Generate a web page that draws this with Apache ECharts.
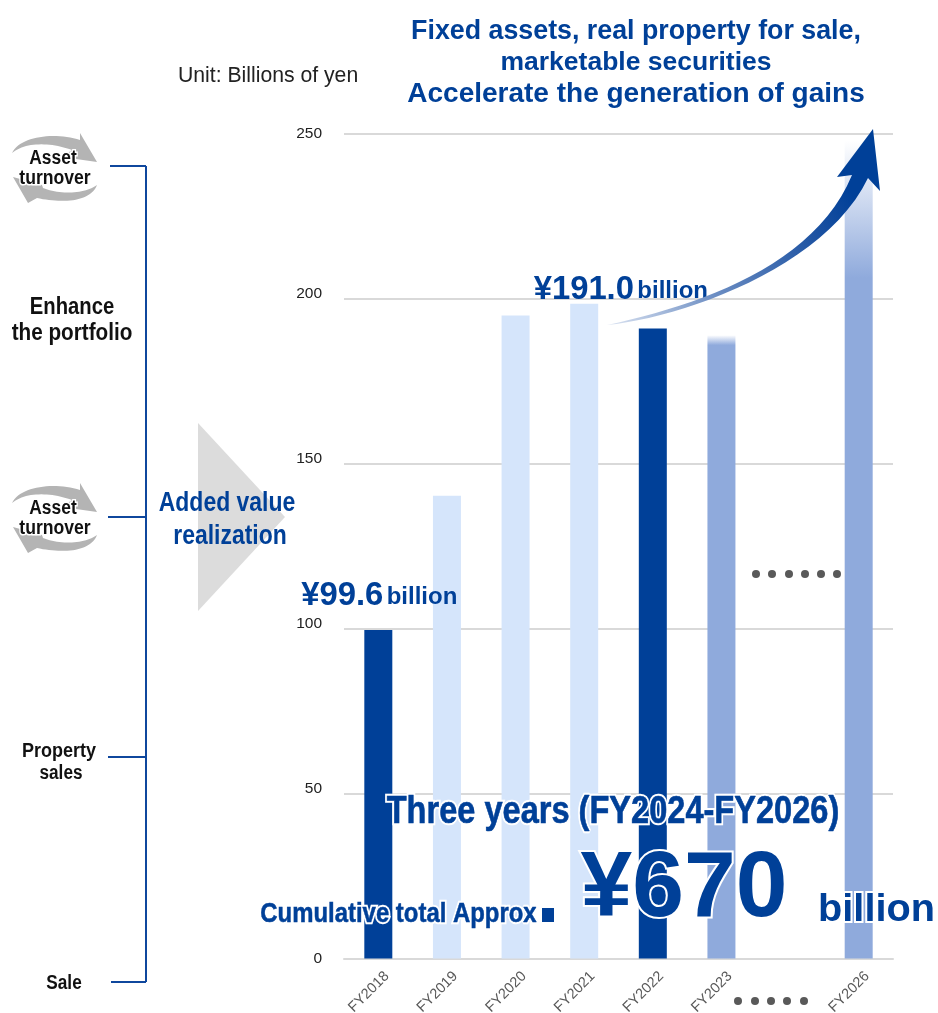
<!DOCTYPE html>
<html>
<head>
<meta charset="utf-8">
<style>html,body{margin:0;padding:0;background:#fff}#chart{width:938px;height:1013px}</style>
<script src="https://cdn.jsdelivr.net/npm/echarts@6/dist/echarts.min.js"></script>
</head>
<body>
<div id="chart"></div>
<script>
// Gains on sales by fiscal year, billions of yen
const categories = ['FY2018', 'FY2019', 'FY2020', 'FY2021', 'FY2022', 'FY2023', '', 'FY2026'];
const gains = [99.6, 140.3, 195, 198.5, 191.0, 189, null, 248];
const yTicks = { min: 0, max: 250, interval: 50 };
const labelledYears = ['FY2018', 'FY2022'];
const headline = ['Fixed assets, real property for sale,', 'marketable securities', 'Accelerate the generation of gains'];

const NAVY = '#004098', PALE = '#d5e5fb', MID = '#8faadc', SLATE = '#595959', FAMILY = 'Liberation Sans';

const fade = (stop) => new echarts.graphic.LinearGradient(0, 0, 0, 1, [
  { offset: 0, color: '#ffffff' }, { offset: stop, color: MID }, { offset: 1, color: MID }
]);
const barFill = {
  FY2018: NAVY, FY2019: PALE, FY2020: PALE, FY2021: PALE, FY2022: NAVY,
  FY2023: fade(0.016), FY2026: fade(0.168)
};

// Samples cubic segments into a polygon outline
function curve(p0, c1, c2, p1, n = 24) {
  const pts = [];
  for (let i = 0; i <= n; i++) {
    const t = i / n, u = 1 - t;
    pts.push([
      u*u*u*p0[0] + 3*u*u*t*c1[0] + 3*u*t*t*c2[0] + t*t*t*p1[0],
      u*u*u*p0[1] + 3*u*u*t*c1[1] + 3*u*t*t*c2[1] + t*t*t*p1[1]
    ]);
  }
  return pts;
}

// Rising arrow over the last years
const arrowPoints = [
  ...curve([607, 325], [700, 305], [815, 265], [852, 175]),
  [837, 177], [873, 129], [880, 191], [868, 178],
  ...curve([868, 178], [825, 268], [680, 318], [607, 325])
];

// Two sweeping grey arrows circling a label
function turnoverIcon(dy) {
  const top = [
    ...curve([12, 153], [20, 136], [55, 132], [80, 140]),
    [80, 133], [97, 162], [62, 157], [72, 150],
    ...curve([72, 150], [50, 142], [25, 142], [12, 153])
  ].map(p => [p[0], p[1] + dy]);
  const bottom = [
    ...curve([97, 185], [90, 203], [60, 203], [37, 198]),
    [28, 203], [13, 177], [42, 185], [43, 188],
    ...curve([43, 188], [60, 195], [85, 194], [97, 185])
  ].map(p => [p[0], p[1] + dy]);
  return [top, bottom].map(points => ({
    type: 'polygon', shape: { points }, style: { fill: '#b4b4b4' }, z: 1
  }));
}

// Condensed text placed by its centre
function label(text, x, y, size, color, scaleX, z = 20, extra) {
  return {
    type: 'text', x, y, scaleX, z,
    style: Object.assign({
      text, fill: color, fontFamily: FAMILY, fontSize: size, fontWeight: 'bold',
      align: 'center', verticalAlign: 'middle'
    }, extra || {})
  };
}
// Same text with a soft white glow kept underneath the clean fill
function glowing(text, x, y, size, color, scaleX, glow = 4, weight = 0) {
  return [
    label(text, x, y, size, '#ffffff', scaleX, 18, { stroke: '#ffffff', lineWidth: glow + weight, shadowColor: '#ffffff', shadowBlur: 6 }),
    label(text, x, y, size, color, scaleX, 20, weight ? { stroke: color, lineWidth: weight } : {})
  ];
}

const bracket = [
  [[110, 166], [146, 166]], [[146, 166], [146, 982]],
  [[108, 517], [146, 517]], [[108, 757], [146, 757]], [[111, 982], [146, 982]]
].map(([a, b]) => ({
  type: 'line', shape: { x1: a[0], y1: a[1], x2: b[0], y2: b[1] },
  style: { stroke: '#0f479d', lineWidth: 2 }, z: 2
}));

const dots = (xs, y) => xs.map(cx => ({
  type: 'circle', shape: { cx, cy: y, r: 4 }, style: { fill: SLATE }, z: 3
}));

const chart = echarts.init(document.getElementById('chart'), null, { renderer: 'canvas' });
chart.setOption({
  animation: false,
  backgroundColor: '#fff',
  grid: { left: 344, right: 45, top: 134, bottom: 54.5, containLabel: false, outerBoundsMode: 'none' },
  xAxis: {
    type: 'category', data: categories,
    axisLine: { lineStyle: { color: '#d9d9d9', width: 2 } },
    axisTick: { show: false },
    axisLabel: { rotate: 45, color: SLATE, fontSize: 14.5, fontFamily: FAMILY, margin: 24, interval: 0, padding: [0, -12, 0, 0] }
  },
  yAxis: {
    type: 'value', min: yTicks.min, max: yTicks.max, interval: yTicks.interval,
    axisLine: { show: false }, axisTick: { show: false },
    axisLabel: {
      color: '#222', fontSize: 15.5, fontFamily: FAMILY, margin: 22,
      // The inner tick labels sit a little above their gridlines
      formatter: (v) => (v === yTicks.min || v === yTicks.max) ? `${v}` : `{lift|${v}}`,
      rich: { lift: { color: '#222', fontSize: 15.5, fontFamily: FAMILY, padding: [0, 0, 10, 0] } }
    },
    splitLine: { lineStyle: { color: '#d9d9d9', width: 2 } }
  },
  series: [{
    type: 'bar', barWidth: 28, z: 5,
    data: gains.map((value, i) => {
      const name = categories[i];
      const item = { value, itemStyle: { color: barFill[name] } };
      if (labelledYears.includes(name)) {
        item.label = {
          show: true, position: 'top',
          offset: name === 'FY2022' ? [-32, -17] : [1, -13],
          formatter: (p) => `{a|¥${p.value.toFixed(1)}} {b|billion}`,
          rich: {
            a: { fontFamily: FAMILY, fontSize: 32.8, fontWeight: 'bold', color: NAVY },
            b: { fontFamily: FAMILY, fontSize: 24, fontWeight: 'bold', color: NAVY, padding: [3, 0, 0, 0] }
          }
        };
      }
      return item;
    })
  }],
  graphic: { elements: [
    { type: 'polygon', shape: { points: [[198, 423], [285, 517], [198, 611]] }, style: { fill: '#dcdcdc' }, z: 1 },
    ...bracket,
    ...turnoverIcon(0), ...turnoverIcon(350),
    {
      type: 'polygon', shape: { points: arrowPoints }, z: 15,
      style: { fill: new echarts.graphic.LinearGradient(607, 326, 850, 190, [
        { offset: 0, color: '#dce4f2' },
        { offset: 0.4, color: '#6a8cc2' },
        { offset: 0.8, color: '#1f54a3' },
        { offset: 1, color: NAVY }
      ], true) }
    },
    ...dots([756, 772, 789, 805, 821, 837], 574),
    ...dots([738, 755, 771, 787, 804], 1001),

    label(headline[0], 636, 32, 26.8, NAVY, 1),
    label(headline[1], 636, 63, 26.5, NAVY, 1),
    label(headline[2], 636, 94, 28, NAVY, 1),
    { type: 'text', x: 178, y: 66, z: 20, style: { text: 'Unit: Billions of yen', fill: '#222', fontFamily: FAMILY, fontSize: 21.2 } },

    ...glowing('Asset', 53, 158, 20, '#111', 0.87, 3),
    ...glowing('turnover', 55, 178, 20, '#111', 0.88, 3),
    ...glowing('Asset', 53, 508, 20, '#111', 0.87, 3),
    ...glowing('turnover', 55, 528, 20, '#111', 0.88, 3),
    label('Enhance', 72, 308, 23, '#111', 0.88),
    label('the portfolio', 72, 334, 23, '#111', 0.9),
    label('Property', 59, 751, 20, '#111', 0.9),
    label('sales', 61, 773, 20, '#111', 0.86),
    label('Sale', 64, 983, 20, '#111', 0.86),
    label('Added value', 227, 504, 27, NAVY, 0.85),
    label('realization', 230, 537, 27, NAVY, 0.85),

    ...glowing('Three years (FY2024-FY2026)', 613, 813, 38, NAVY, 0.857, 4, 0.6),
    ...glowing('Cumulative total Approx', 398.5, 914, 28, NAVY, 0.854, 4, 0.5),
    { type: 'rect', shape: { x: 542, y: 908, width: 12, height: 14 }, style: { fill: NAVY }, z: 20 },
    ...glowing('¥670', 684, 890, 93, NAVY, 1.0),
    ...glowing('billion', 876.5, 910, 39.7, NAVY, 1)
  ] }
});
</script>
</body>
</html>
